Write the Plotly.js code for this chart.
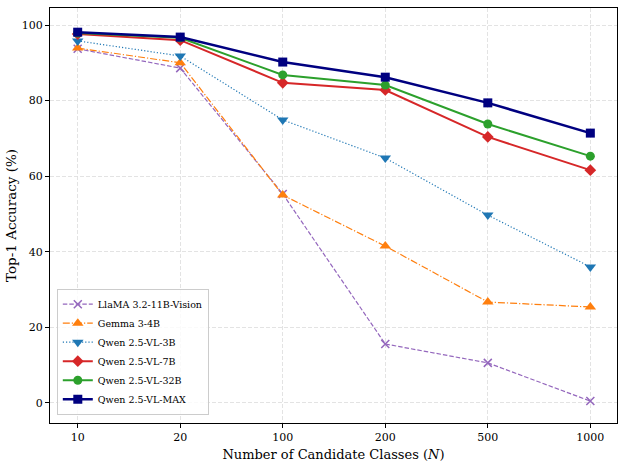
<!DOCTYPE html>
<html><head><meta charset="utf-8">
<script src="https://cdn.plot.ly/plotly-3.0.1.min.js"></script>
<style>body{margin:0;background:#fff}#chart{width:624px;height:464px}</style>
</head><body><div id="chart"></div>
<script>
const categories = ["10","20","100","200","500","1000"];
const seriesNames = ["LlaMA 3.2-11B-Vision","Gemma 3-4B","Qwen 2.5-VL-3B","Qwen 2.5-VL-7B","Qwen 2.5-VL-32B","Qwen 2.5-VL-MAX"];
const llama = [93.7, 88.6, 55.3, 15.6, 10.6, 0.5];
const gemma = [93.9, 90.0, 55.0, 41.5, 26.7, 25.4];
const qwen3b = [95.8, 91.8, 74.9, 64.8, 49.7, 36.0];
const qwen7b = [97.6, 96.0, 84.7, 82.8, 70.4, 61.6];
const qwen32b = [97.9, 96.6, 86.8, 84.1, 73.8, 65.3];
const qwenMax = [98.1, 96.8, 90.2, 86.2, 79.4, 71.4];

const styles = [
  {color:"#9467bd", dash:"4.5px,2px", width:1.2, symbol:"x-thin-open", size:8},
  {color:"#ff7f0e", dash:"7px,2px,1.2px,2px", width:1.2, symbol:"triangle-up", size:10},
  {color:"#1f77b4", dash:"1.2px,2px", width:1.2, symbol:"triangle-down", size:10},
  {color:"#d62728", dash:"solid", width:2, symbol:"diamond", size:9},
  {color:"#2ca02c", dash:"solid", width:2, symbol:"circle", size:9},
  {color:"#000080", dash:"solid", width:2.5, symbol:"square", size:9}
];
const data = [llama, gemma, qwen3b, qwen7b, qwen32b, qwenMax];
const xIdx = categories.map((c,i)=>i);
const traces = data.map((ys,i)=>({
  x: xIdx, y: ys, name: seriesNames[i], type:"scatter", mode:"lines+markers",
  line:{color:styles[i].color, dash:styles[i].dash, width:styles[i].width},
  marker:{color:styles[i].color, symbol:styles[i].symbol, size:styles[i].size,
          line:{color:styles[i].color, width: i===0?1.5:0}}
}));

const ff = "DejaVu Serif, serif";
const layout = {
  width:624, height:464,
  margin:{l:50, r:7, t:8, b:41},
  paper_bgcolor:"#fff", plot_bgcolor:"#fff",
  font:{family:ff, size:11, color:"#000"},
  showlegend:true,
  legend:{x:0.012, y:0.02, xanchor:"left", yanchor:"bottom",
          bgcolor:"rgba(255,255,255,0.8)", bordercolor:"#ccc", borderwidth:1,
          font:{family:ff, size:9.5}, tracegroupgap:0, itemwidth:30},
  xaxis:{
    tickmode:"array", tickvals:xIdx, ticktext:categories,
    range:[-0.27, 5.26], showgrid:true, gridcolor:"#dcdcdc", griddash:"4px,2px", gridwidth:0.8,
    zeroline:false, showline:true, linecolor:"#000", linewidth:1, mirror:true,
    ticks:"outside", ticklen:4, tickcolor:"#000",
    tickfont:{family:ff, size:11},
    title:{text:"Number of Candidate Classes (<i>N</i>)", font:{family:ff, size:13}, standoff:6}
  },
  yaxis:{
    range:[-5.3, 104.5], tickvals:[0,20,40,60,80,100],
    showgrid:true, gridcolor:"#dcdcdc", griddash:"4px,2px", gridwidth:0.8,
    zeroline:false, showline:true, linecolor:"#000", linewidth:1, mirror:true,
    ticks:"outside", ticklen:4, tickcolor:"#000",
    tickfont:{family:ff, size:11},
    title:{text:"Top-1 Accuracy (%)", font:{family:ff, size:13.5}, standoff:2}
  }
};
Plotly.newPlot("chart", traces, layout, {displayModeBar:false, staticPlot:true});
</script></body></html>
